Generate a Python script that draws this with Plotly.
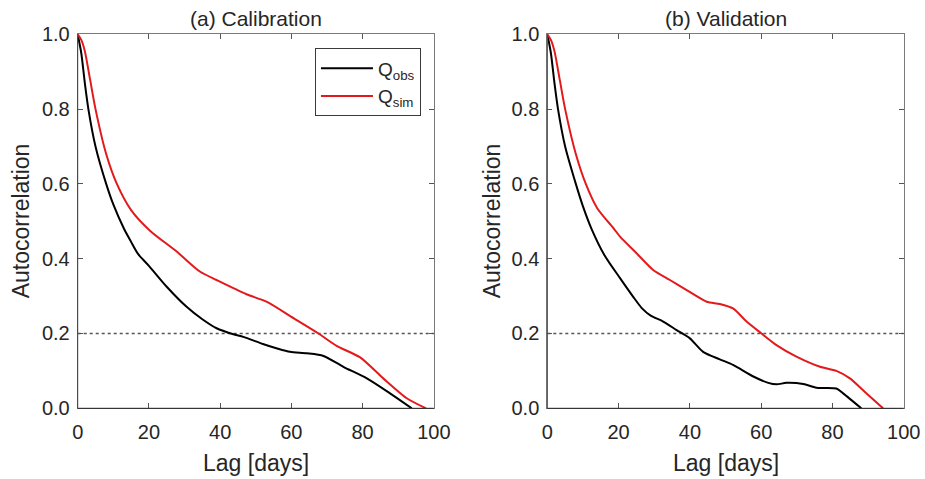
import plotly.graph_objects as go

# ---------------- data ----------------
# (a) Calibration
cal_obs_lag = [0, 1, 2, 3, 5, 8, 10, 13, 15, 17, 20, 25, 30.5, 35, 39, 43.7, 46.5, 52, 56, 59.6, 64.3, 69, 74.6, 81.2, 87.7, 93.8]
cal_obs_acf = [1.0, 0.95, 0.87, 0.80, 0.70, 0.60, 0.545, 0.48, 0.445, 0.412, 0.381, 0.325, 0.272, 0.238, 0.214, 0.198, 0.191, 0.172, 0.160, 0.151, 0.147, 0.140, 0.111, 0.080, 0.040, 0.0]
cal_sim_lag = [0, 1, 2, 3.5, 5, 8, 11, 15, 20.3, 27.8, 34.4, 39, 47.4, 53, 60.6, 67.6, 72.7, 79.3, 85.8, 92.4, 97.8]
cal_sim_acf = [1.0, 0.985, 0.955, 0.878, 0.80, 0.68, 0.60, 0.53, 0.475, 0.419, 0.365, 0.343, 0.305, 0.285, 0.241, 0.200, 0.167, 0.136, 0.080, 0.027, 0.0]

# (b) Validation
val_obs_lag = [0, 1, 2, 3, 5, 8, 10, 12.4, 16, 20.4, 24.1, 26.5, 29, 32.5, 36.3, 40, 43.7, 48.4, 52.1, 57.8, 62, 64.3, 67.1, 71.8, 75.5, 81.1, 83, 88.1]
val_obs_acf = [1.0, 0.95, 0.87, 0.80, 0.70, 0.60, 0.54, 0.48, 0.41, 0.348, 0.298, 0.268, 0.248, 0.232, 0.209, 0.187, 0.151, 0.131, 0.116, 0.085, 0.068, 0.064, 0.068, 0.065, 0.055, 0.053, 0.040, 0.0]
val_sim_lag = [0, 1, 2, 3.5, 5, 8, 10.8, 14, 18.7, 20.4, 25.1, 29.7, 34.4, 39.1, 44.7, 48.4, 52.1, 55.9, 60.1, 64.3, 69.9, 76.5, 81.1, 84.9, 89.5, 94.2]
val_sim_acf = [1.0, 0.985, 0.955, 0.878, 0.80, 0.68, 0.60, 0.535, 0.48, 0.459, 0.414, 0.370, 0.343, 0.316, 0.285, 0.279, 0.267, 0.232, 0.200, 0.169, 0.138, 0.111, 0.100, 0.080, 0.040, 0.0]

threshold_lag = [0, 100]
threshold_acf = [0.2, 0.2]

x_ticks = [0, 20, 40, 60, 80, 100]
y_ticks = [0.0, 0.2, 0.4, 0.6, 0.8, 1.0]

panel_titles = ["(a) Calibration", "(b) Validation"]
x_label = "Lag [days]"
y_label = "Autocorrelation"
obs_name = "Q<sub>obs</sub>"
sim_name = "Q<sub>sim</sub>"

# ---------------- styles ----------------
TXT = "#262626"
FONT = "Liberation Sans, Arial, Helvetica, sans-serif"
OBS_COLOR = "#000000"
SIM_COLOR = "#e31a1c"

fig = go.Figure()

panels = [
    ("x", "y", cal_obs_lag, cal_obs_acf, cal_sim_lag, cal_sim_acf, True),
    ("x2", "y2", val_obs_lag, val_obs_acf, val_sim_lag, val_sim_acf, False),
]
for xa, ya, ol, oa, sl, sa, show in panels:
    fig.add_trace(go.Scatter(x=threshold_lag, y=threshold_acf, mode="lines",
                             line=dict(color="#555555", width=1.3, dash="dot"),
                             showlegend=False, hoverinfo="skip", xaxis=xa, yaxis=ya))
    fig.add_trace(go.Scatter(x=ol, y=oa, mode="lines", name=obs_name,
                             line=dict(color=OBS_COLOR, width=2, shape="spline", smoothing=0.7),
                             showlegend=show, xaxis=xa, yaxis=ya))
    fig.add_trace(go.Scatter(x=sl, y=sa, mode="lines", name=sim_name,
                             line=dict(color=SIM_COLOR, width=2, shape="spline", smoothing=0.7),
                             showlegend=show, xaxis=xa, yaxis=ya))

ydom = [0.1476, 0.9284]
xdoms = [[0.084, 0.469], [0.5917, 0.977]]

common_axis = dict(showgrid=False, zeroline=False, showline=True, linecolor="#7a7a7a",
                   linewidth=1, mirror="ticks", ticks="inside", ticklen=5, tickwidth=1,
                   automargin=False,
                   tickcolor="#555555", tickfont=dict(family=FONT, size=20, color=TXT))

fig.update_layout(
    width=925, height=479,
    margin=dict(l=0, r=0, t=0, b=0, autoexpand=False),
    paper_bgcolor="white", plot_bgcolor="white",
    font=dict(family=FONT, color=TXT),
    xaxis=dict(domain=xdoms[0], range=[0, 100], tickvals=x_ticks, anchor="y",
               ticklabelstandoff=6, **common_axis),
    yaxis=dict(domain=ydom, range=[0, 1], tickvals=y_ticks, tickformat=".1f", anchor="x",
               ticklabelstandoff=3, **common_axis),
    xaxis2=dict(domain=xdoms[1], range=[0, 100], tickvals=x_ticks, anchor="y2",
                ticklabelstandoff=6, **common_axis),
    yaxis2=dict(domain=ydom, range=[0, 1], tickvals=y_ticks, tickformat=".1f", anchor="x2",
                ticklabelstandoff=3, **common_axis),
    legend=dict(x=0.4551, xanchor="right", y=0.899, yanchor="top",
                bgcolor="white", bordercolor="#3a3a3a", borderwidth=1,
                font=dict(family=FONT, size=19, color=TXT), itemwidth=52,
                tracegroupgap=0),
    showlegend=True,
)

# darker bottom/left axis lines
for i, xd in enumerate(xdoms):
    xr = "x domain" if i == 0 else "x2 domain"
    yr = "y domain" if i == 0 else "y2 domain"
    fig.add_shape(type="line", xref=xr, yref=yr, x0=0, x1=1, y0=0, y1=0,
                  line=dict(color="#262626", width=1), layer="above")
    fig.add_shape(type="line", xref=xr, yref=yr, x0=0, x1=0, y0=0, y1=1,
                  line=dict(color="#404040", width=1), layer="above")

# titles and axis labels
for i, xd in enumerate(xdoms):
    cx = (xd[0] + xd[1]) / 2
    fig.add_annotation(text=panel_titles[i], xref="paper", yref="paper", x=cx, y=1 - 18 / 479,
                       showarrow=False, font=dict(family=FONT, size=21, color=TXT),
                       xanchor="center", yanchor="middle")
    fig.add_annotation(text=x_label, xref="paper", yref="paper", x=cx, y=1 - 463 / 479,
                       showarrow=False, font=dict(family=FONT, size=23, color=TXT),
                       xanchor="center", yanchor="middle")
    lx = 21 / 925 if i == 0 else 492 / 925
    fig.add_annotation(text=y_label, xref="paper", yref="paper", x=lx, y=(ydom[0] + ydom[1]) / 2,
                       showarrow=False, textangle=-90, font=dict(family=FONT, size=23, color=TXT),
                       xanchor="center", yanchor="middle")

fig.write_html("out.html")
